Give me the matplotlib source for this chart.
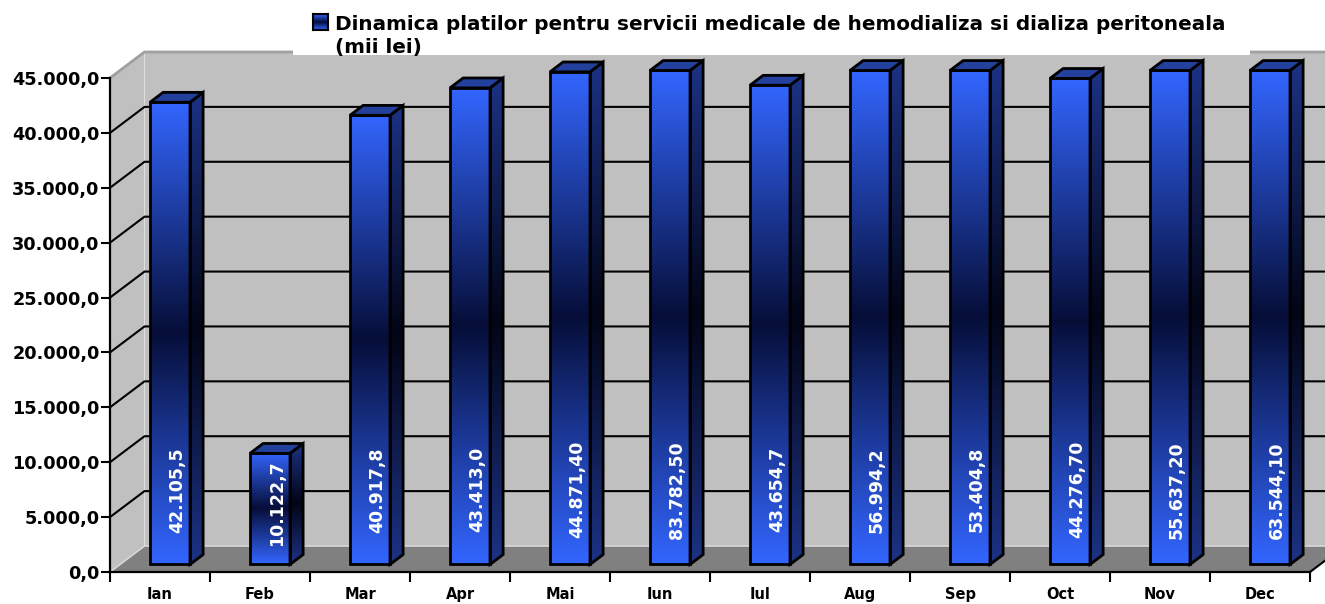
import numpy as np
import matplotlib
matplotlib.use("Agg")
import matplotlib.pyplot as plt
from matplotlib.patches import Polygon, Rectangle
from matplotlib.ticker import FuncFormatter, FixedLocator

# date
luni = ['Ian', 'Feb', 'Mar', 'Apr', 'Mai', 'Iun', 'Iul', 'Aug', 'Sep', 'Oct', 'Nov', 'Dec']
valori = [42105.5, 10122.7, 40917.8, 43413.0, 44871.40, 83782.50,
          43654.7, 56994.2, 53404.8, 44276.70, 55637.20, 63544.10]
etichete = ['42.105,5', '10.122,7', '40.917,8', '43.413,0', '44.871,40', '83.782,50',
            '43.654,7', '56.994,2', '53.404,8', '44.276,70', '55.637,20', '63.544,10']
titlu1 = 'Dinamica platilor pentru servicii medicale de hemodializa si dializa peritoneala'
titlu2 = '(mii lei)'
YMAX = 45000
PAS = 5000

W, H = 1325, 604
FONT = 'DejaVu Sans'

# geometrie 3D (in unitati de date)
px_x = 100.0            # pixeli pe categorie
px_y = 494.0 / YMAX     # pixeli pe unitate valoare
DX = 34.5 / px_x        # adancime perete
DY = 26.0 / px_y
F0, F1 = 0.29, 0.67     # fata / spatele barei in adancime
HALF = 0.2


def fmt(v, pos=None):
    s = '{:,.1f}'.format(v)
    return s.replace(',', 'X').replace('.', ',').replace('X', '.')


def grad(bright, dark, n=256, p=1.0):
    u = np.linspace(0, 1, n)
    s = np.abs(2 * u - 1) ** p
    b = np.array(bright) / 255.0
    d = np.array(dark) / 255.0
    return (d[None, :] + (b - d)[None, :] * s[:, None])[:, None, :]


fig = plt.figure(figsize=(W / 100, H / 100), dpi=100)
ax = fig.add_axes([0, 0, 1, 1])
ax.patch.set_alpha(0)

n = len(luni)
x0, x1 = -0.5, n - 0.5

# perete spate, perete stanga, podea
ax.add_patch(Polygon([(x0 + DX, DY), (x1 + DX, DY), (x1 + DX, YMAX + DY), (x0 + DX, YMAX + DY)],
                     closed=True, fc='#c0c0c0', ec='none', zorder=0.5))
ax.add_patch(Polygon([(x0, 0), (x0 + DX, DY), (x0 + DX, YMAX + DY), (x0, YMAX)],
                     closed=True, fc='#c0c0c0', ec='none', zorder=0.5))
ax.add_patch(Polygon([(x0, 0), (x1, 0), (x1 + DX, DY), (x0 + DX, DY)],
                     closed=True, fc='#808080', ec='none', zorder=0.6))
ax.plot([x0, x0 + DX, x1 + DX], [YMAX, YMAX + DY, YMAX + DY], color='#a0a0a0', lw=2, zorder=0.7,
        solid_capstyle='butt')
ax.plot([x0, x0 + DX, x1 + DX], [0, DY, DY], color='#d8d8d8', lw=1.2, zorder=0.7)
ax.plot([x1, x1 + DX], [0, DY], color='black', lw=1.5, zorder=0.8)

# linii de grila
for g in np.arange(PAS, YMAX, PAS):
    ax.plot([x0, x0 + DX, x1 + DX], [g, g + DY, g + DY], color='black', lw=1.5, zorder=1)

# bare
fata = grad((0x33, 0x66, 0xff), (0x06, 0x0e, 0x38))
lat = grad((0x1c, 0x33, 0x85), (0x02, 0x05, 0x16))
for i, v in enumerate(valori):
    h = min(v, YMAX)
    bx0, by0 = F0 * DX, F0 * DY
    bx1, by1 = F1 * DX, F1 * DY
    l, r = i - HALF + bx0, i + HALF + bx0
    top = h + by0
    ddx, ddy = bx1 - bx0, by1 - by0
    ax.imshow(fata, extent=(l, r, by0, top), origin='lower', aspect='auto',
              interpolation='bilinear', zorder=3)
    ax.add_patch(Rectangle((l, by0), r - l, h, fc='none', ec='black', lw=2, zorder=3.2))
    side = Polygon([(r, by0), (r + ddx, by0 + ddy), (r + ddx, top + ddy), (r, top)],
                   closed=True, fc='none', ec='black', lw=2, zorder=3.2, joinstyle='miter')
    ax.add_patch(side)
    im2 = ax.imshow(lat, extent=(r, r + ddx, by0, top + ddy), origin='lower', aspect='auto',
                    interpolation='bilinear', zorder=3.1)
    im2.set_clip_path(side)
    ax.add_patch(Polygon([(l, top), (r, top), (r + ddx, top + ddy), (l + ddx, top + ddy)],
                         closed=True, fc='#22409c', ec='black', lw=2, zorder=3.2, joinstyle='miter'))
    ax.text(i + 0.17, by0 + min(v / 2 + 500, 6800), etichete[i], rotation=90,
            ha='center', va='center', color='white', fontsize=12.5,
            fontweight='bold', family=FONT, zorder=4)

ax.set_aspect('auto')
ax.set_xlim(-0.5 - 110 / px_x, -0.5 + (W - 110) / px_x)
ax.set_ylim(-(H - 572) / px_y, 572 / px_y)

# axe
for s in ['top', 'right']:
    ax.spines[s].set_visible(False)
ax.spines['left'].set_position(('data', x0))
ax.spines['left'].set_bounds(0, YMAX)
ax.spines['bottom'].set_position(('data', 0))
ax.spines['bottom'].set_bounds(x0, x1)
for s in ['left', 'bottom']:
    ax.spines[s].set_linewidth(1.6)
    ax.spines[s].set_zorder(2)

ax.set_yticks(np.arange(0, YMAX + 1, PAS))
ax.yaxis.set_major_formatter(FuncFormatter(fmt))
ax.tick_params(axis='y', length=6.5, width=1.5, pad=1, labelsize=12.7)
ax.set_xticks(range(n))
ax.set_xticklabels(luni)
ax.xaxis.set_minor_locator(FixedLocator(np.arange(x0, x1 + 0.01, 1)))
ax.tick_params(axis='x', which='major', length=0, pad=11, labelsize=10.5)
ax.tick_params(axis='x', which='minor', length=7.5, width=1.5)
for t in ax.get_xticklabels() + ax.get_yticklabels():
    t.set_fontweight('bold')
    t.set_family(FONT)

# legenda
fig.patches.append(Rectangle((293 / W, 1 - 55 / H), (1250 - 293) / W, 55 / H,
                             transform=fig.transFigure, fc='white', ec='none', zorder=5))
fig.text(335 / W, 1 - 30.5 / H, titlu1, ha='left', va='baseline', fontsize=14.4,
         fontweight='bold', family=FONT, zorder=6)
fig.text(335 / W, 1 - 52.5 / H, titlu2, ha='left', va='baseline', fontsize=14.4,
         fontweight='bold', family=FONT, zorder=6)
lg = fig.add_axes([313 / W, 1 - 30 / H, 15 / W, 16 / H], zorder=7)
lg.imshow(grad((0x33, 0x66, 0xff), (0x06, 0x0e, 0x38)), aspect='auto',
          extent=(0, 1, 0, 1), origin='lower')
lg.set_xticks([])
lg.set_yticks([])
for s in lg.spines.values():
    s.set_linewidth(1.5)

fig.savefig('out.png', dpi=100, facecolor='white')
